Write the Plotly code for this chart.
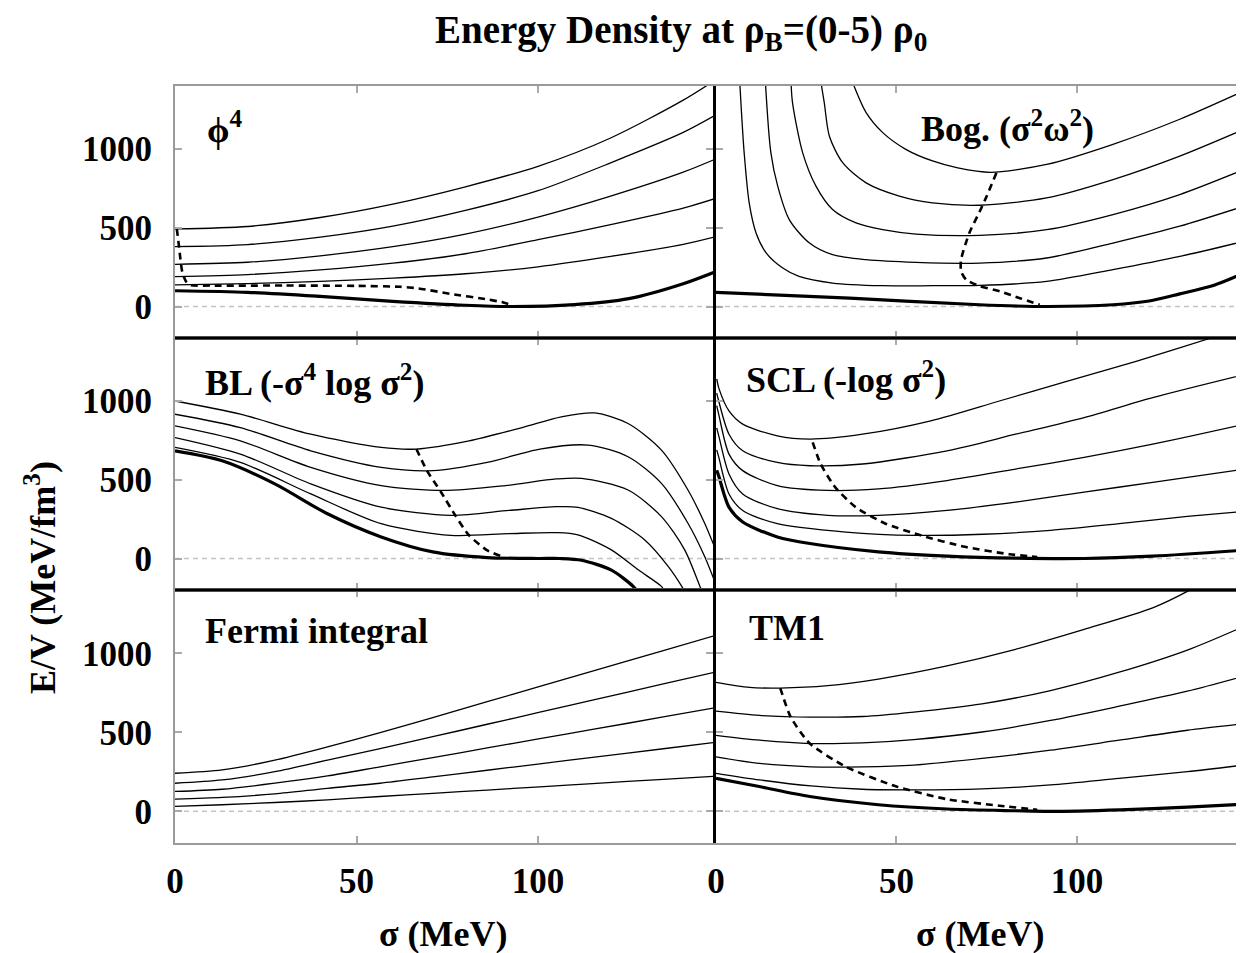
import plotly.graph_objects as go

# page body has an 8px margin: the figure is sized so it ends exactly at the window edge
OFF = 8
W, H = 1244 - OFF, 953 - OFF
FONT = "Liberation Serif"

# ---------------- data (sigma in MeV, E/V in MeV/fm^3) ----------------
# phi^4
phi4_s = [0, 20, 40, 60, 80, 100, 120, 140, 149]
phi4_r1 = [137, 145, 160, 180, 208, 252, 318, 395, 444]
phi4_r2 = [190, 203, 232, 275, 335, 424, 520, 625, 687]
phi4_r3 = [268, 281, 322, 380, 460, 568, 701, 853, 937]
phi4_r4 = [380, 393, 440, 510, 610, 735, 912, 1105, 1216]
phi4_r5 = [493, 508, 565, 650, 760, 890, 1070, 1310, 1440]
phi4_r0_s = [0, 20, 40, 60, 80, 93, 110, 125, 140, 149]
phi4_r0 = [100, 90, 64, 33, 8, 0, 12, 50, 145, 222]
phi4_min_s = [0.5, 1, 1.5, 2, 3, 4, 10, 30, 50, 62, 67, 76, 86, 90, 92]
phi4_min_E = [493, 400, 300, 220, 160, 137, 133, 133, 131, 125, 115, 80, 45, 28, 15]

# Bogoliubov
bog_r0_s = [0, 37, 73, 92, 110, 120, 128.5, 138, 146.3]
bog_r0 = [90, 53, 11, 0, 11, 35, 80, 135, 212]
bog_r1_s = [6.6, 6.9, 7.8, 9.2, 11.1, 13.9, 18.5, 23, 32.3, 46, 60, 73, 91.6, 110, 128.5, 146.3]
bog_r1 = [1420, 1295, 977, 658, 467, 340, 244, 191, 149, 132, 132, 134, 159, 234, 318, 414]
bog_r2_s = [13.7, 15.2, 17.1, 20.3, 25.9, 32.3, 41.6, 55.4, 73.1, 91.6, 110, 128.5, 146.3]
bog_r2 = [1420, 977, 764, 552, 403, 329, 297, 280, 276, 308, 403, 510, 637]
bog_r3_s = [20.8, 21.2, 24, 27.7, 32.3, 38.8, 46.2, 55.4, 73.1, 91.6, 110, 128.5, 146.3]
bog_r3 = [1420, 1295, 977, 764, 616, 531, 488, 460, 452, 488, 584, 711, 870]
bog_r4_s = [29.1, 30, 31.4, 35.1, 41.6, 50.8, 60, 73.1, 91.6, 110, 128.5, 146.3]
bog_r4 = [1420, 1295, 1083, 913, 785, 701, 658, 643, 689, 806, 955, 1125]
bog_r5_s = [37.9, 41.6, 46.2, 52.6, 60, 67, 76, 91.6, 110, 128.5, 146.3]
bog_r5 = [1420, 1231, 1104, 998, 924, 880, 852, 902, 1030, 1189, 1369]
bog_min_s = [77.7, 75, 73, 70.2, 67.9, 67.9, 69.3, 73, 78.7, 84.2, 89.7]
bog_min_E = [849, 700, 600, 467, 297, 223, 170, 130, 96, 53, 11]

# BL
bl_r0_s = [0, 13, 27.5, 42, 56.8, 71, 86, 100, 106, 112, 120.2, 126.2, 128]
bl_r0 = [684, 621, 474, 284, 137, 42, 6, 0, 0, -11, -74, -177, -230]
bl_r1_s = [0, 18, 37.4, 56.8, 76, 92, 105, 111, 120.2, 127.6, 134, 135]
bl_r1 = [705, 610, 410, 221, 147, 158, 164, 150, 55, -72, -177, -210]
bl_r2_s = [0, 18, 37.4, 56.8, 76, 92, 105, 111, 120.2, 129.4, 135.9, 139.6, 140.5]
bl_r2 = [768, 663, 474, 326, 274, 305, 329, 325, 255, 118, -51, -177, -215]
bl_r3_s = [0, 18, 37.4, 56.8, 74, 91, 105, 112, 124.8, 134, 140.4, 144.6, 145.3]
bl_r3 = [842, 747, 579, 463, 432, 463, 505, 509, 435, 266, 55, -177, -215]
bl_r4_s = [0, 18, 37.4, 56.8, 71, 86, 100.5, 113.8, 124.8, 134, 141.3, 145.9, 149.2]
bl_r4 = [916, 831, 684, 579, 558, 610, 695, 720, 646, 477, 224, 13, -177]
bl_r5_s = [0, 18, 37.4, 56.8, 66.5, 81, 95.6, 106.4, 115.6, 124.8, 134, 141.3, 145.9, 149.2]
bl_r5 = [1000, 916, 789, 705, 695, 747, 831, 899, 924, 857, 688, 435, 224, 40]
bl_min_s = [66.5, 69.4, 73.3, 77.2, 81, 85.9, 89.8]
bl_min_E = [695, 558, 421, 274, 147, 53, 15]

# SCL
scl_r0_s = [0.2, 0.8, 3.6, 7.4, 17, 26, 45, 64, 83, 102, 121, 146.5]
scl_r0 = [560, 520, 326, 232, 137, 95, 42, 15, 2, 0, 15, 53]
scl_r1_s = [0.2, 0.8, 3.6, 7.4, 17, 36, 55, 74, 92.7, 111.7, 130.6, 146.5]
scl_r1 = [690, 640, 410, 305, 221, 168, 147, 154, 179, 221, 267, 300]
scl_r23_s = [0.2, 0.8, 3.6, 7.4, 17, 31, 45, 64, 83, 102, 121, 146.5]
scl_r2 = [830, 775, 537, 410, 316, 274, 274, 305, 358, 421, 484, 568]
scl_r3 = [970, 910, 663, 558, 463, 432, 442, 495, 568, 642, 726, 853]
scl_r4_s = [0.2, 0.8, 3.6, 7.4, 17, 26, 40.6, 64, 83, 102, 121, 146.5]
scl_r4 = [1050, 995, 789, 684, 610, 589, 600, 684, 789, 895, 1021, 1168]
scl_r5_s = [0.2, 0.8, 3.6, 7.4, 17, 26, 40.6, 59.5, 78.5, 97.4, 116.4, 137.2, 146.5]
scl_r5 = [1140, 1080, 937, 853, 779, 758, 789, 874, 1000, 1126, 1252, 1400, 1470]
scl_min_s = [26.8, 29, 33, 38.7, 47, 56.7, 69, 81.3, 89]
scl_min_E = [737, 600, 453, 326, 221, 147, 74, 27, 10]

# Fermi integral
fermi_s = [0, 13, 27.5, 42, 56.5, 71, 86, 100.5, 115, 134.5, 148.5]
fermi_r1 = [31, 42, 56, 73, 94, 114, 135, 155, 176, 203, 222]
fermi_r2 = [77, 88, 111, 146, 178, 218, 260, 301, 342, 396, 436]
fermi_r3 = [126, 140, 178, 224, 282, 340, 401, 460, 518, 597, 654]
fermi_r4 = [178, 199, 251, 324, 397, 472, 551, 627, 703, 806, 879]
fermi_r5 = [241, 262, 324, 408, 498, 593, 694, 790, 887, 1017, 1110]

# TM1
tm1_r0_s = [0, 12, 26, 45, 64, 83, 92.7, 112, 130.6, 146.3]
tm1_r0 = [209, 157, 94, 42, 15, 4, 0, 10, 27, 46]
tm1_s = [0, 12.1, 26.3, 40.6, 54.8, 73.7, 92.7, 111.7, 130.6, 146.3]
tm1_r1 = [241, 199, 161, 140, 136, 142, 167, 209, 251, 293]
tm1_r2 = [345, 303, 282, 282, 293, 335, 387, 450, 513, 554]
tm1_r3 = [481, 450, 429, 433, 454, 502, 575, 665, 760, 855]
tm1_r4 = [634, 607, 596, 600, 628, 680, 764, 880, 1020, 1170]
tm1_r5_s = [0, 9.3, 17.8, 31, 45, 64, 83, 102, 121, 130.6, 135]
tm1_r5 = [816, 784, 780, 795, 837, 920, 1025, 1151, 1287, 1391, 1450]
tm1_min_s = [17.8, 20.7, 26, 36, 50, 64, 78.5, 89]
tm1_min_E = [780, 596, 429, 282, 157, 77, 36, 10]

panel_labels = ["ϕ<sup>4</sup>", "Bog. (σ<sup>2</sup>ω<sup>2</sup>)",
                "BL (-σ<sup>4</sup> log σ<sup>2</sup>)", "SCL (-log σ<sup>2</sup>)",
                "Fermi integral", "TM1"]
label_pos = [(8.3, 1134), (56.2, 1146), (7.7, 1133), (7.8, 1152), (7.7, 1139), (8.6, 1158)]

x_ticks = [0, 50, 100]
y_ticks = [0, 500, 1000]
title_text = "Energy Density at ρ<sub>B</sub>=(0-5) ρ<sub>0</sub>"
x_title = "σ (MeV)"
y_title = "E/V (MeV/fm<sup>3</sup>)"

# ---------------- figure ----------------
panels = [
    dict(thin=[(phi4_s, phi4_r1), (phi4_s, phi4_r2), (phi4_s, phi4_r3), (phi4_s, phi4_r4), (phi4_s, phi4_r5)],
         thick=(phi4_r0_s, phi4_r0), dash=(phi4_min_s, phi4_min_E)),
    dict(thin=[(bog_r1_s, bog_r1), (bog_r2_s, bog_r2), (bog_r3_s, bog_r3), (bog_r4_s, bog_r4), (bog_r5_s, bog_r5)],
         thick=(bog_r0_s, bog_r0), dash=(bog_min_s, bog_min_E)),
    dict(thin=[(bl_r1_s, bl_r1), (bl_r2_s, bl_r2), (bl_r3_s, bl_r3), (bl_r4_s, bl_r4), (bl_r5_s, bl_r5)],
         thick=(bl_r0_s, bl_r0), dash=(bl_min_s, bl_min_E)),
    dict(thin=[(scl_r1_s, scl_r1), (scl_r23_s, scl_r2), (scl_r23_s, scl_r3), (scl_r4_s, scl_r4), (scl_r5_s, scl_r5)],
         thick=(scl_r0_s, scl_r0), dash=(scl_min_s, scl_min_E)),
    dict(thin=[(fermi_s, fermi_r1), (fermi_s, fermi_r2), (fermi_s, fermi_r3), (fermi_s, fermi_r4), (fermi_s, fermi_r5)],
         thick=None, dash=None),
    dict(thin=[(tm1_s, tm1_r1), (tm1_s, tm1_r2), (tm1_s, tm1_r3), (tm1_s, tm1_r4), (tm1_r5_s, tm1_r5)],
         thick=(tm1_r0_s, tm1_r0), dash=(tm1_min_s, tm1_min_E)),
]

fig = go.Figure()

def px_x(p):
    # screen pixel -> paper fraction
    return (p - OFF) / W

def px_y(p):
    return 1 - (p - OFF) / H

xdom = [[px_x(175), px_x(713)], [px_x(716), 1.0]]
xrng = [[0, 148.2], [0, 146.3]]
ydom = [[px_y(338), px_y(86)], [px_y(590), px_y(338)], [px_y(843), px_y(590)]]

tickfont = dict(family=FONT, size=35, color="black", weight="bold")

for i, p in enumerate(panels):
    n = i + 1
    xa = "x" if n == 1 else f"x{n}"
    ya = "y" if n == 1 else f"y{n}"
    for s, e in p["thin"]:
        fig.add_trace(go.Scatter(x=s, y=e, xaxis=xa, yaxis=ya, mode="lines",
                                 line=dict(color="black", width=1.3, shape="spline", smoothing=0.8),
                                 showlegend=False, hoverinfo="skip"))
    if p["thick"] is not None:
        s, e = p["thick"]
        fig.add_trace(go.Scatter(x=s, y=e, xaxis=xa, yaxis=ya, mode="lines",
                                 line=dict(color="black", width=3.2, shape="spline", smoothing=0.8),
                                 showlegend=False, hoverinfo="skip"))
    if p["dash"] is not None:
        s, e = p["dash"]
        fig.add_trace(go.Scatter(x=s, y=e, xaxis=xa, yaxis=ya, mode="lines",
                                 line=dict(color="black", width=2.6, dash="7px,5px", shape="spline", smoothing=0.6),
                                 showlegend=False, hoverinfo="skip"))

layout = dict(width=W, height=H, margin=dict(l=0, r=0, t=0, b=0, autoexpand=False),
              paper_bgcolor="white", plot_bgcolor="white", showlegend=False)

shapes = []
annotations = []
for i in range(6):
    n = i + 1
    row, col = i // 2, i % 2
    xkey = "xaxis" if n == 1 else f"xaxis{n}"
    ykey = "yaxis" if n == 1 else f"yaxis{n}"
    yanchor_name = "y" if n == 1 else f"y{n}"
    xanchor_name = "x" if n == 1 else f"x{n}"
    layout[xkey] = dict(domain=xdom[col], range=xrng[col], anchor=yanchor_name, automargin=False,
                        tickvals=x_ticks, ticks="inside", ticklen=7, tickwidth=2, tickcolor="#aaaaaa",
                        showline=True, linecolor="#9a9a9a", linewidth=2, mirror="ticks",
                        showgrid=False, zeroline=False, fixedrange=True,
                        showticklabels=(row == 2), tickfont=tickfont, ticklabelstandoff=6)
    layout[ykey] = dict(domain=ydom[row], range=[-200, 1400], anchor=xanchor_name, automargin=False,
                        tickvals=y_ticks, ticks="inside", ticklen=7, tickwidth=2, tickcolor="#aaaaaa",
                        showline=True, linecolor="#9a9a9a", linewidth=2, mirror="ticks",
                        showgrid=False, zeroline=False, fixedrange=True,
                        showticklabels=(col == 0), tickfont=tickfont, ticklabelstandoff=14)
    shapes.append(dict(type="line", xref=f"{xanchor_name} domain", yref=yanchor_name,
                       x0=0, x1=1, y0=0, y1=0, layer="below",
                       line=dict(color="#c4c4c4", width=1.5, dash="5px,4px")))
    lx, ly = label_pos[i]
    annotations.append(dict(text=panel_labels[i], xref=xanchor_name, yref=yanchor_name,
                            x=lx, y=ly, xanchor="left", yanchor="middle", showarrow=False,
                            font=dict(family=FONT, size=36, color="black", weight="bold")))

# panel dividers
shapes.append(dict(type="line", xref="paper", yref="paper", x0=px_x(714.5), x1=px_x(714.5),
                   y0=px_y(843), y1=px_y(86), line=dict(color="black", width=3)))
for yy in (338, 590):
    shapes.append(dict(type="line", xref="paper", yref="paper", x0=px_x(175), x1=1.0,
                       y0=px_y(yy), y1=px_y(yy), line=dict(color="black", width=3)))

annotations.append(dict(text=title_text, xref="paper", yref="paper", x=px_x(681), y=px_y(32),
                        xanchor="center", yanchor="middle", showarrow=False,
                        font=dict(family=FONT, size=39, color="black", weight="bold")))
annotations.append(dict(text=x_title, xref="paper", yref="paper", x=px_x(444), y=px_y(934),
                        xanchor="center", yanchor="middle", showarrow=False,
                        font=dict(family=FONT, size=36, color="black", weight="bold")))
annotations.append(dict(text=x_title, xref="paper", yref="paper", x=px_x(980), y=px_y(934),
                        xanchor="center", yanchor="middle", showarrow=False,
                        font=dict(family=FONT, size=36, color="black", weight="bold")))
annotations.append(dict(text=y_title, xref="paper", yref="paper", x=px_x(40), y=px_y(578),
                        xanchor="center", yanchor="middle", showarrow=False, textangle=-90,
                        font=dict(family=FONT, size=36, color="black", weight="bold")))

layout["shapes"] = shapes
layout["annotations"] = annotations
fig.update_layout(**layout)

fig.write_html("out.html")
